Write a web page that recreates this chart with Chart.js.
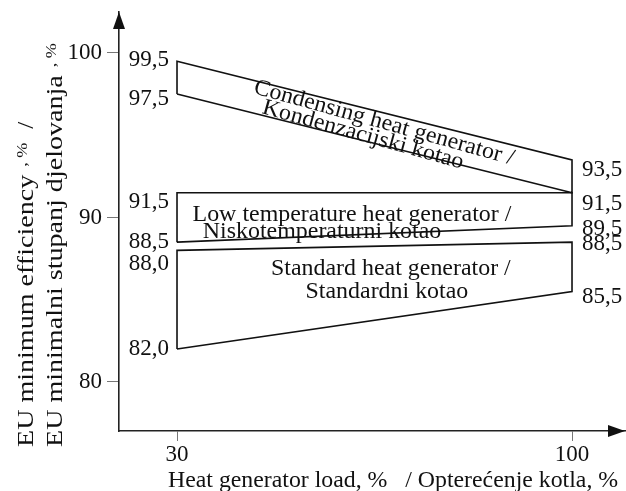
<!DOCTYPE html>
<html><head><meta charset="utf-8">
<script src="https://cdn.jsdelivr.net/npm/chart.js@4.4.0/dist/chart.umd.min.js"></script>
<style>html,body{margin:0;padding:0;background:#fff;}</style>
</head><body>
<canvas id="c" width="626" height="491"></canvas>
<script>
// ---- data ----
const loadPoints = [30, 100];
const condensingLow = [97.5, 91.5];
const condensingHigh = [99.5, 93.5];
const lowTempLow = [88.5, 89.5];
const lowTempHigh = [91.5, 91.5];
const standardLow = [82.0, 85.5];
const standardHigh = [88.0, 88.5];
const yTicks = [80, 90, 100];
const xTicks = [30, 100];
const bandNames = [
  ["Condensing heat generator /", "Kondenzacijski kotao"],
  ["Low temperature heat generator /", "Niskotemperaturni kotao"],
  ["Standard heat generator /", "Standardni kotao"]
];
const xTitle = "Heat generator load, %   / Opterećenje kotla, %";
const yTitleMain = ["EU minimum efficiency", "EU minimalni stupanj djelovanja"];
const yTitleUnit = [", %", ", %"];
const yTitleTail = ["/", ""];

const FONT = '"Liberation Serif", "Times New Roman", serif';

function band(lo, hi) {
  return [
    {x: loadPoints[0], y: lo[0]},
    {x: loadPoints[0], y: hi[0]},
    {x: loadPoints[1], y: hi[1]},
    {x: loadPoints[1], y: lo[1]},
    {x: loadPoints[0], y: lo[0]}
  ];
}
function fmt(v) { return v.toFixed(1).replace('.', ','); }

const ds = (pts) => ({data: pts, showLine: true, borderColor: '#111', borderWidth: 1.6,
  pointRadius: 0, fill: false, tension: 0});

function sText(c, txt, x, y, sx, align, ang) {
  c.save();
  c.translate(x, y);
  if (ang) c.rotate(ang);
  c.scale(sx, 1);
  c.textAlign = align;
  c.fillText(txt, 0, 0);
  c.restore();
}

const annot = {
  id: 'annot',
  afterDraw(chart) {
    const c = chart.ctx, xs = chart.scales.x, ys = chart.scales.y, a = chart.chartArea;
    c.save();
    c.fillStyle = '#111';
    // arrows
    c.beginPath();
    c.moveTo(a.left, a.top); c.lineTo(a.left - 6, a.top + 17); c.lineTo(a.left + 6, a.top + 17); c.closePath(); c.fill();
    c.beginPath();
    c.moveTo(a.right, a.bottom); c.lineTo(a.right - 17, a.bottom - 6); c.lineTo(a.right - 17, a.bottom + 6); c.closePath(); c.fill();

    c.font = '23px ' + FONT;
    // value labels
    const leftVals = [condensingHigh[0], condensingLow[0], lowTempHigh[0], lowTempLow[0], standardHigh[0], standardLow[0]];
    const leftNudge = [-3, 3, 7, -2, 12, -2];
    const rightVals = [condensingHigh[1], condensingLow[1], lowTempLow[1], standardHigh[1], standardLow[1]];
    const rightNudge = [8, 9, 1, 0, 3.5];
    c.textBaseline = 'alphabetic';
    c.textAlign = 'right';
    const xl = xs.getPixelForValue(loadPoints[0]) - 8;
    leftVals.forEach((v, i) => c.fillText(fmt(v), xl, ys.getPixelForValue(v) + leftNudge[i] + 8));
    c.textAlign = 'left';
    const xr = xs.getPixelForValue(loadPoints[1]) + 10;
    rightVals.forEach((v, i) => c.fillText(fmt(v), xr, ys.getPixelForValue(v) + rightNudge[i] + 8));

    // band labels (anchor in data coords)
    c.textBaseline = 'middle';
    const put = (txt, dx, dy, ang) =>
      sText(c, txt, xs.getPixelForValue(dx), ys.getPixelForValue(dy), 1.04, 'center', ang * Math.PI / 180);
    put(bandNames[0][0], 66.7, 95.74, 15.5);
    put(bandNames[0][1], 62.96, 95.01, 15.5);
    put(bandNames[1][0], 61.0, 90.15, 0);
    put(bandNames[1][1], 55.7, 89.12, 0);
    put(bandNames[2][0], 67.9, 86.87, 0);
    put(bandNames[2][1], 67.2, 85.47, 0);

    // axis titles
    c.textBaseline = 'alphabetic';
    sText(c, xTitle, 168, 487, 1.035, 'left', 0);
    [33, 62].forEach((bx, i) => {
      c.save(); c.translate(bx, 447); c.rotate(-Math.PI / 2);
      c.font = '23px ' + FONT;
      const sx = 1.22;
      const w = c.measureText(yTitleMain[i]).width * sx;
      sText(c, yTitleMain[i], 0, 0, sx, 'left', 0);
      c.font = '15px ' + FONT;
      sText(c, yTitleUnit[i], w + 8, -6, 1.2, 'left', 0);
      c.font = '23px ' + FONT;
      if (yTitleTail[i]) sText(c, yTitleTail[i], w + 46, 0, 1.1, 'left', 0);
      c.restore();
    });
    c.restore();
  }
};

new Chart(document.getElementById('c'), {
  type: 'scatter',
  data: {datasets: [
    ds(band(condensingLow, condensingHigh)),
    ds(band(lowTempLow, lowTempHigh)),
    ds(band(standardLow, standardHigh))
  ]},
  options: {
    responsive: false, animation: false, devicePixelRatio: 1,
    layout: {padding: {top: 12, right: 1, left: 0, bottom: 0}},
    plugins: {legend: {display: false}, tooltip: {enabled: false}},
    scales: {
      x: {
        type: 'linear', min: 19.72, max: 109.39,
        afterBuildTicks: s => { s.ticks = xTicks.map(v => ({value: v})); },
        afterFit: s => { s.height = 60; s.paddingLeft = 0; s.paddingRight = 0; },
        grid: {drawOnChartArea: false, drawTicks: true, tickLength: 10, color: '#777', lineWidth: 1},
        border: {display: true, color: '#222', width: 1.6},
        ticks: {font: {family: FONT, size: 23}, color: '#111', padding: 0, maxRotation: 0, autoSkip: false}
      },
      y: {
        type: 'linear', min: 77.02, max: 102.49,
        afterBuildTicks: s => { s.ticks = yTicks.map(v => ({value: v})); },
        afterFit: s => { s.width = 119; s.paddingTop = 0; s.paddingBottom = 0; },
        grid: {drawOnChartArea: false, drawTicks: true, tickLength: 12, color: '#777', lineWidth: 1},
        border: {display: true, color: '#222', width: 1.6},
        ticks: {font: {family: FONT, size: 23}, color: '#111', padding: 5, autoSkip: false}
      }
    }
  },
  plugins: [annot]
});
</script>
</body></html>
